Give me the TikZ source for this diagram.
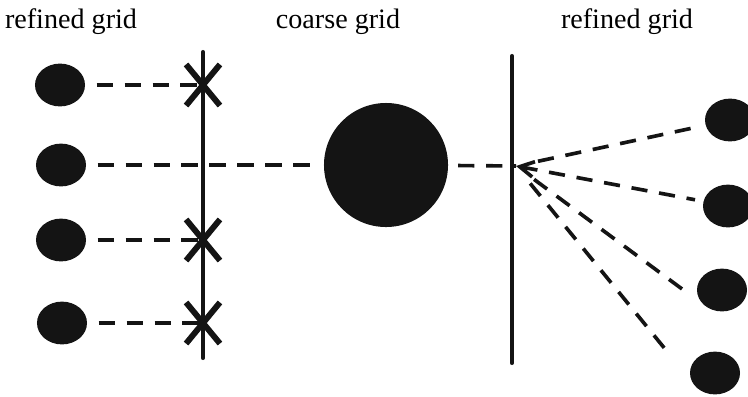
\documentclass[tikz,border=0pt]{standalone}
\usepackage{fontspec}
\setmainfont{Liberation Serif}
\usetikzlibrary{shapes.geometric,shapes.misc,arrows.meta}
\begin{document}
\begin{tikzpicture}[x=0.025cm,y=-0.025cm,every node/.style={font=\fontsize{20}{24}\selectfont},
  cell/.style={ellipse,fill=black!92,minimum width=1.25cm,minimum height=1.07cm,inner sep=0pt},
  xmk/.style={cross out,draw=black!92,line width=4.2pt,minimum width=0.7cm,minimum height=0.88cm,inner sep=0pt},
  dlink/.style={line width=2.6pt,black!92,dash pattern=on 11.5pt off 8.4pt}]
\useasboundingbox (0,0) rectangle (748,396);
\node[anchor=base] (t1) at (71,28) {refined grid};
\node[anchor=base] (t2) at (338,28) {coarse grid};
\node[anchor=base] (t3) at (627,28) {refined grid};
\draw[line width=2.9pt,black!92,line cap=round] (203,52) -- (203,358);
\draw[line width=2.9pt,black!92,line cap=round] (512,56) -- (512,363);
\node[cell] (l1) at (60,85) {};
\node[cell] (l2) at (61,165) {};
\node[cell] (l3) at (61,240) {};
\node[cell] (l4) at (62,323) {};
\node[xmk] (x1) at (203,85) {};
\node[xmk] (x3) at (203,240) {};
\node[xmk] (x4) at (203,323) {};
\node[circle,fill=black!92,minimum size=3.1cm,inner sep=0pt] (c) at (386,165) {};
\coordinate (p) at (516,166);
\node[cell] (r1) at (730,120) {};
\node[cell] (r2) at (728,206) {};
\node[cell] (r3) at (722,290) {};
\node[cell] (r4) at (715,373) {};
\draw[dlink,shorten <=8pt] (l1) -- (x1.center);
\draw[dlink,shorten <=8pt,shorten >=7pt] (l2) -- (c);
\draw[dlink,shorten <=8pt] (l3) -- (x3.center);
\draw[dlink,shorten <=8pt] (l4) -- (x4.center);
\draw[dlink,shorten <=7pt] (c) -- (p);
\draw[dlink,shorten <=16pt,shorten >=7pt] (p) -- (r1);
\draw[dlink,{Straight Barb[length=10pt,width=11pt]}-,shorten >=6pt] (p) -- (r2);
\draw[dlink,shorten <=16pt,shorten >=14pt] (p) -- (r3.south west);
\draw[dlink,shorten <=16pt,shorten >=32pt] (p) -- (r4.south west);
\end{tikzpicture}
\end{document}
